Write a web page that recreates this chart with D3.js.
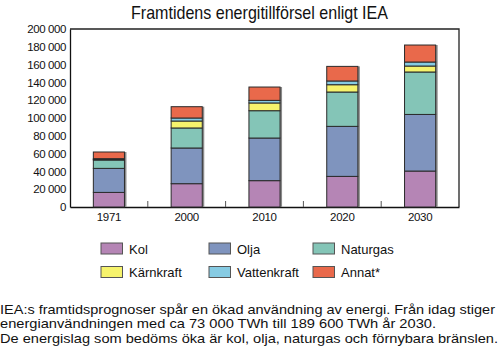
<!DOCTYPE html>
<html><head><meta charset="utf-8">
<script src="https://cdn.jsdelivr.net/npm/d3@7"></script>
<style>
body{margin:0;background:#fff;}
svg{display:block;font-family:"Liberation Sans",Arial,sans-serif;}
</style></head>
<body><svg id="c" width="500" height="354"></svg>
<script>
const years = ["1971","2000","2010","2020","2030"];
const seriesNames = ["Kol","Olja","Naturgas","Kärnkraft","Vattenkraft","Annat*"];
const kol        = [16400, 26200, 29600, 34400, 40400];
const olja       = [27000, 40100, 47900, 56200, 63600];
const naturgas   = [ 9400, 22500, 30700, 38600, 47700];
const karnkraft  = [  500,  7800,  8700,  8200,  6700];
const vattenkraft= [ 1000,  3400,  2900,  4200,  4500];
const annat      = [ 7500, 12700, 15000, 16400, 19100];
const yTicks = [0,20000,40000,60000,80000,100000,120000,140000,160000,180000,200000];
const colors = ["#b585b5","#7f94be","#84c5b7","#f6f36c","#86cbe3","#e9694b"];
const title = "Framtidens energitillförsel enligt IEA";
const notes = [
 "IEA:s framtidsprognoser spår en ökad användning av energi. Från idag stiger",
 "energianvändningen med ca 73 000 TWh till 189 600 TWh år 2030.",
 "De energislag som bedöms öka är kol, olja, naturgas och förnybara bränslen."
];

const seriesVals = [kol, olja, naturgas, karnkraft, vattenkraft, annat];
const table = years.map((y,i)=>{const o={year:y}; seriesNames.forEach((s,j)=>o[s]=seriesVals[j][i]); return o;});
const stack = d3.stack().keys(seriesNames)(table);

const svg = d3.select("#c");
const L=70, R=459, T=29, B=207;
const x = d3.scaleBand().domain(years).range([L,R]).paddingInner(0.6).paddingOuter(0.3);
const xb = d3.scaleBand().domain(years).range([L,R]).padding(0);
const y = d3.scaleLinear().domain([0,200000]).range([B,T]);
const loc = d3.formatLocale({decimal:",",thousands:" ",grouping:[3],currency:["",""]});
const fmt = loc.format(",");

// title
svg.append("text").attr("x",131).attr("y",19).attr("font-size",18.5)
  .attr("textLength",257).attr("lengthAdjust","spacingAndGlyphs")
  .attr("fill","#111").text(title);

// frame
svg.append("path").attr("d",`M${L},${T}H${R}V${B}`).attr("fill","none").attr("stroke","#222").attr("stroke-width",1.3);

// y axis
const ya = svg.append("g").attr("transform",`translate(${L},0)`)
  .call(d3.axisLeft(y).tickValues(yTicks).tickFormat(fmt).tickSize(0).tickPadding(4));
ya.select(".domain").attr("stroke","#111").attr("stroke-width",1.3);
ya.selectAll("text").attr("font-size",11.5).attr("fill","#111").attr("font-family","Liberation Sans, Arial, sans-serif").attr("letter-spacing",-0.4);

// x axis
const xa = svg.append("g").attr("transform",`translate(0,${B})`)
  .call(d3.axisBottom(x).tickSize(0).tickPadding(6));
xa.select(".domain").attr("stroke","#111").attr("stroke-width",1.6);
xa.selectAll("text").attr("font-size",11.5).attr("fill","#111").attr("font-family","Liberation Sans, Arial, sans-serif").attr("letter-spacing",-0.3);

// inner ticks at band boundaries
svg.append("g").selectAll("line").data(years.slice(1)).join("line")
  .attr("x1",d=>xb(d)).attr("x2",d=>xb(d)).attr("y1",B).attr("y2",B-6)
  .attr("stroke","#555").attr("stroke-width",1);

// bar shadows
svg.append("g").selectAll("rect").data(table).join("rect")
  .attr("x",d=>x(d.year)+x.bandwidth()).attr("width",2)
  .attr("y",d=>y(d3.sum(seriesNames,s=>d[s]))).attr("height",d=>B-y(d3.sum(seriesNames,s=>d[s])))
  .attr("fill","#8a8a8a");

// bars
const g = svg.append("g");
stack.forEach((layer,j)=>{
  g.append("g").selectAll("rect").data(layer).join("rect")
   .attr("x",d=>x(d.data.year)).attr("width",x.bandwidth())
   .attr("y",d=>y(d[1])).attr("height",d=>y(d[0])-y(d[1]))
   .attr("fill",colors[j]).attr("stroke","#2a2a2a").attr("stroke-width",1);
});

// legend
const legCols=[101,209,313], legRows=[243,266.5];
const lg = svg.append("g");
seriesNames.forEach((s,i)=>{
  const cx=legCols[i%3], cy=legRows[Math.floor(i/3)];
  lg.append("rect").attr("x",cx).attr("y",cy).attr("width",21.5).attr("height",11)
    .attr("fill",colors[i]).attr("stroke","#555").attr("stroke-width",1);
  lg.append("text").attr("x",cx+28).attr("y",cy+10.5).attr("font-size",13).attr("fill","#111").text(s);
});

// notes
const nb=[313.5,328,342.5], nl=[495,436,498];
notes.forEach((t,i)=>{
  svg.append("text").attr("x",0).attr("y",nb[i]).attr("font-size",13.3)
    .attr("textLength",nl[i]).attr("lengthAdjust","spacingAndGlyphs")
    .attr("fill","#111").text(t);
});
</script></body></html>
